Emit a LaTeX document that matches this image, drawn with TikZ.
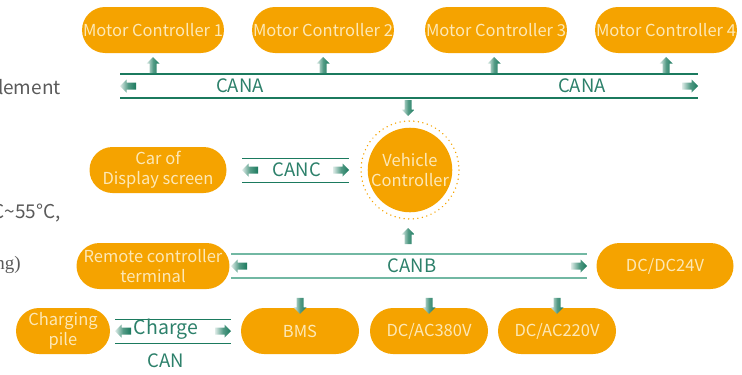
\documentclass[tikz,border=0pt]{standalone}
\usepackage{fontspec}
\setmainfont{Noto Sans CJK SC}
\newfontfamily\serifcut{Liberation Serif}
\usepackage{tikz}
\usetikzlibrary{shapes.misc, positioning, calc}
\definecolor{pill}{HTML}{F5A300}
\definecolor{pilltext}{HTML}{FDE8B6}
\definecolor{busgreen}{HTML}{1B7A5E}
\definecolor{buslight}{HTML}{72B8A3}
\definecolor{bustext}{HTML}{2C806A}
\definecolor{cuttext}{HTML}{5A5A5A}
\tikzset{
  unit/.style={rounded rectangle, minimum width=137pt, minimum height=46pt, inner sep=0pt, fill=pill, text=pilltext, align=center, font=\fontsize{16.5}{20}\selectfont},
  smallunit/.style={unit, minimum width=118pt},
  busline/.style={draw=busgreen, line width=1.3pt},
  buslabel/.style={text=bustext, font=\fontsize{18.5}{20}\selectfont, inner sep=0pt},
  cut/.style={text=cuttext, font=\fontsize{19}{20}\selectfont, inner sep=0pt},
  % block arrow, tip at the origin, pointing along +x
  flow/.pic={
    \shade[left color=busgreen!15, right color=busgreen, middle color=busgreen!75]
      (-16,-3.5) -- (-6.5,-3.5) -- (-6.5,-6.5) -- (0,0) -- (-6.5,6.5) -- (-6.5,3.5) -- (-16,3.5) -- cycle;
  }
}
\begin{document}
\begin{tikzpicture}[x=1pt, y=-1pt]
    \useasboundingbox (0,0) rectangle (742,375);
    \clip (0,0) rectangle (742,375);

    % Text running in from the left page column
    \node[cut, anchor=east] (txt1) at (61,87) {element};
    \node[cut, anchor=east] (txt2) at (61,213) {C\textasciitilde55°C,};
    \node[cut, anchor=east, font=\serifcut\fontsize{19}{20}\selectfont] (txt3) at (21,265) {ng)};

    % Motor controllers
    \node[unit] (mc1) at (153,30) {Motor Controller 1};
    \node[unit] (mc2) at (323,30) {Motor Controller 2};
    \node[unit] (mc3) at (496,30) {Motor Controller 3};
    \node[unit] (mc4) at (666,30) {Motor Controller 4};

    % CANA
    \coordinate (caL) at (120,86);
    \coordinate (caR) at (698,86);
    \draw[busline] ([yshift=-12pt]caL) -- ([yshift=-12pt]caR);
    \draw[busline] ([yshift=12pt]caL) -- ([yshift=12pt]caR);
    \pic[rotate=180] (caA1) at (caL) {flow};
    \pic (caA2) at (caR) {flow};
    \node[buslabel] (canaL) at (240,86) {CANA};
    \node[buslabel] (canaR) at (582,86) {CANA};
    \foreach \x in {153, 323, 494, 666}
        \pic[rotate=90] at (\x,57) {flow};

    % Vehicle controller
    \node[circle, minimum size=84pt, inner sep=0pt, fill=pill, text=pilltext, align=center, font=\fontsize{16.5}{20}\selectfont] (vc) at (410,170) {Vehicle\\Controller};
    \draw[pill, line width=1.5pt, dash pattern=on 0.1pt off 4.5pt, line cap=round] (vc.center) circle[radius=49];
    \pic[rotate=-90] (caDown) at (408,116) {flow};

    % Display screen and CANC
    \node[unit] (disp) at (158,170) {Car of\\Display screen};
    \coordinate (ccL) at (242,170);
    \coordinate (ccR) at (349,170);
    \draw[busline, line width=1pt] ([yshift=-12pt]ccL) -- ([yshift=-12pt]ccR);
    \draw[busline, line width=1pt] ([yshift=12pt]ccL) -- ([yshift=12pt]ccR);
    \pic[rotate=180] (ccA1) at (ccL) {flow};
    \pic (ccA2) at (ccR) {flow};
    \node[buslabel] (canc) at (297,170) {CANC};

    % CANB
    \node[unit] (remote) at (153,266) {Remote controller\\terminal};
    \node[unit] (dcdc) at (665,266) {DC/DC24V};
    \coordinate (cbL) at (231,266);
    \coordinate (cbR) at (587,266);
    \draw[busline, draw=buslight] ([yshift=-12pt]cbL) -- ([yshift=-12pt]cbR);
    \draw[busline, draw=buslight] ([yshift=12pt]cbL) -- ([yshift=12pt]cbR);
    \pic[rotate=180] (cbA1) at (cbL) {flow};
    \pic (cbA2) at (cbR) {flow};
    \node[buslabel] (canb) at (412,266) {CANB};
    \pic[rotate=90] (cbUp) at (408,228) {flow};

    % Units hanging off CANB
    \node[smallunit] (bms) at (300,331) {BMS};
    \node[smallunit] (ac380) at (429,331) {DC/AC380V};
    \node[smallunit] (ac220) at (557,331) {DC/AC220V};
    \foreach \u in {bms, ac380, ac220}
        \pic[rotate=-90] at ([yshift=-6pt]\u.north) {flow};

    % Charging pile and charge CAN
    \node[unit, minimum width=94pt] (pile) at (63,331) {Charging\\pile};
    \coordinate (chL) at (115,331);
    \coordinate (chR) at (231,331);
    \draw[busline, line width=1pt] ([yshift=-12pt]chL) -- ([yshift=-12pt]chR);
    \draw[busline, line width=1pt] ([yshift=12pt]chL) -- ([yshift=12pt]chR);
    \pic[rotate=180] (chA1) at (chL) {flow};
    \pic (chA2) at (chR) {flow};
    \node[buslabel, font=\fontsize{19.5}{20}\selectfont] (charge) at (166,329) {Charge};
    \node[buslabel] (chcan) at (166,361) {CAN};
\end{tikzpicture}
\end{document}
